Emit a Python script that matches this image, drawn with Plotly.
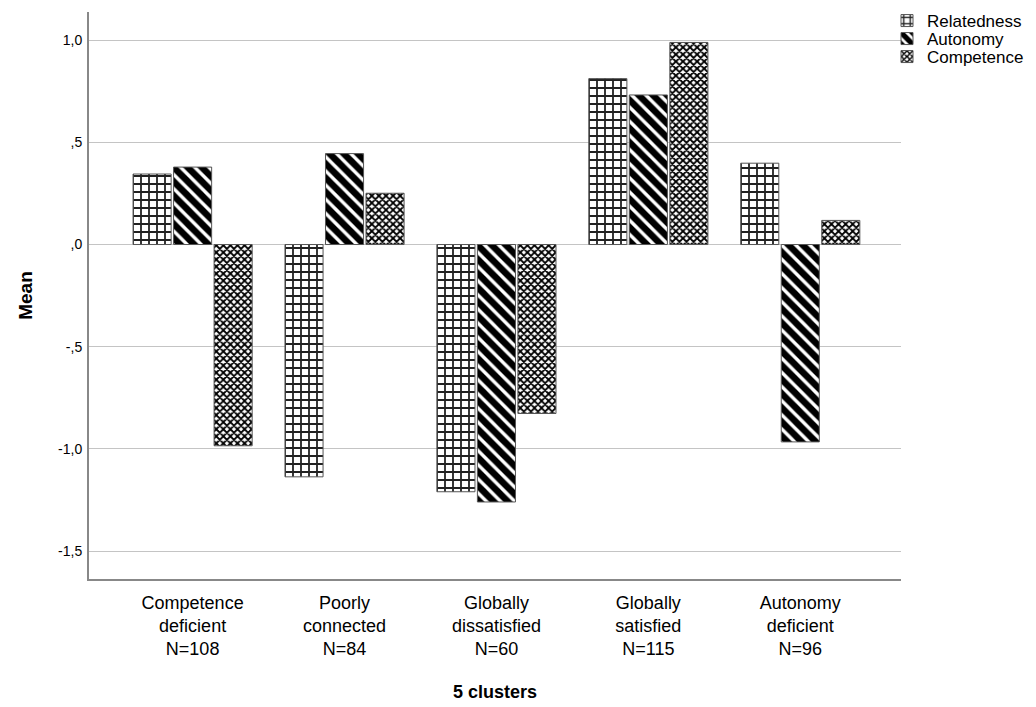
import plotly.graph_objects as go

categories = ["Competence<br>deficient<br>N=108", "Poorly<br>connected<br>N=84",
              "Globally<br>dissatisfied<br>N=60", "Globally<br>satisfied<br>N=115",
              "Autonomy<br>deficient<br>N=96"]
series_names = ["Relatedness", "Autonomy", "Competence"]
relatedness = [0.345, -1.137, -1.21, 0.812, 0.398]
autonomy = [0.379, 0.445, -1.26, 0.732, -0.966]
competence = [-0.985, 0.251, -0.827, 0.989, 0.118]
ytick_vals = [1.0, 0.5, 0.0, -0.5, -1.0, -1.5]
ytick_text = ["1,0", ",5", ",0", "-,5", "-1,0", "-1,5"]

FONT = "Liberation Sans, Arial, sans-serif"
patterns = [
    dict(shape="+", size=8, solidity=0.4, fgcolor="#222222", bgcolor="white", fillmode="replace"),
    dict(shape="\\", size=10, solidity=0.66, fgcolor="black", bgcolor="white", fillmode="replace"),
    dict(shape="x", size=5, solidity=0.6, fgcolor="black", bgcolor="white", fillmode="replace"),
]
values = [relatedness, autonomy, competence]
legend_ids = ["legend", "legend2", "legend3"]

fig = go.Figure()
for name, vals, pat, lg in zip(series_names, values, patterns, legend_ids):
    fig.add_trace(go.Bar(
        x=list(range(len(categories))), y=vals, name=name, legend=lg,
        marker=dict(color="white", pattern=pat, line=dict(color="#555555", width=1)),
    ))

W, H = 1036, 707
ML, MR, MT, MB = 89, 135, 12, 128
PLOT_H = H - MT - MB
PLOT_W = W - ML - MR


def legend_at(row_center_px):
    y = 1 - (row_center_px - MT) / PLOT_H
    return dict(x=(887 - ML) / PLOT_W, y=y, xanchor="left", yanchor="middle",
                font=dict(size=17, family=FONT, color="black"),
                bgcolor="rgba(0,0,0,0)", borderwidth=0, itemwidth=30)


fig.update_layout(
    width=W, height=H,
    margin=dict(l=ML, r=MR, t=MT, b=MB, autoexpand=False),
    paper_bgcolor="white", plot_bgcolor="white",
    barmode="group", bargap=0.2, bargroupgap=0.06,
    font=dict(family=FONT, color="black"),
    showlegend=True,
    legend=legend_at(21),
    legend2=legend_at(39),
    legend3=legend_at(57),
)
fig.update_xaxes(
    range=[-0.682, 4.663], tickmode="array",
    tickvals=list(range(len(categories))), ticktext=categories,
    tickfont=dict(size=18, family=FONT, color="black"),
    showgrid=False, zeroline=False, showline=True, linecolor="#888888", linewidth=2,
    ticks="", ticklabelstandoff=6,
    title=dict(text="<b>5 clusters</b>", font=dict(size=18, family=FONT, color="black"), standoff=27),
)
fig.update_yaxes(
    range=[-1.637, 1.138], tickmode="array",
    tickvals=ytick_vals, ticktext=ytick_text,
    tickfont=dict(size=14, family=FONT, color="black"),
    showgrid=True, gridcolor="#c4c4c4", gridwidth=1,
    zeroline=True, zerolinecolor="#c4c4c4", zerolinewidth=1,
    showline=True, linecolor="#888888", linewidth=2,
    ticks="", ticklabelstandoff=2,
    title=dict(text="<b>Mean</b>", font=dict(size=19, family=FONT, color="black"), standoff=20),
)
fig.write_html("out.html", config={"displayModeBar": False},
               post_script="document.body.style.margin='0';")
